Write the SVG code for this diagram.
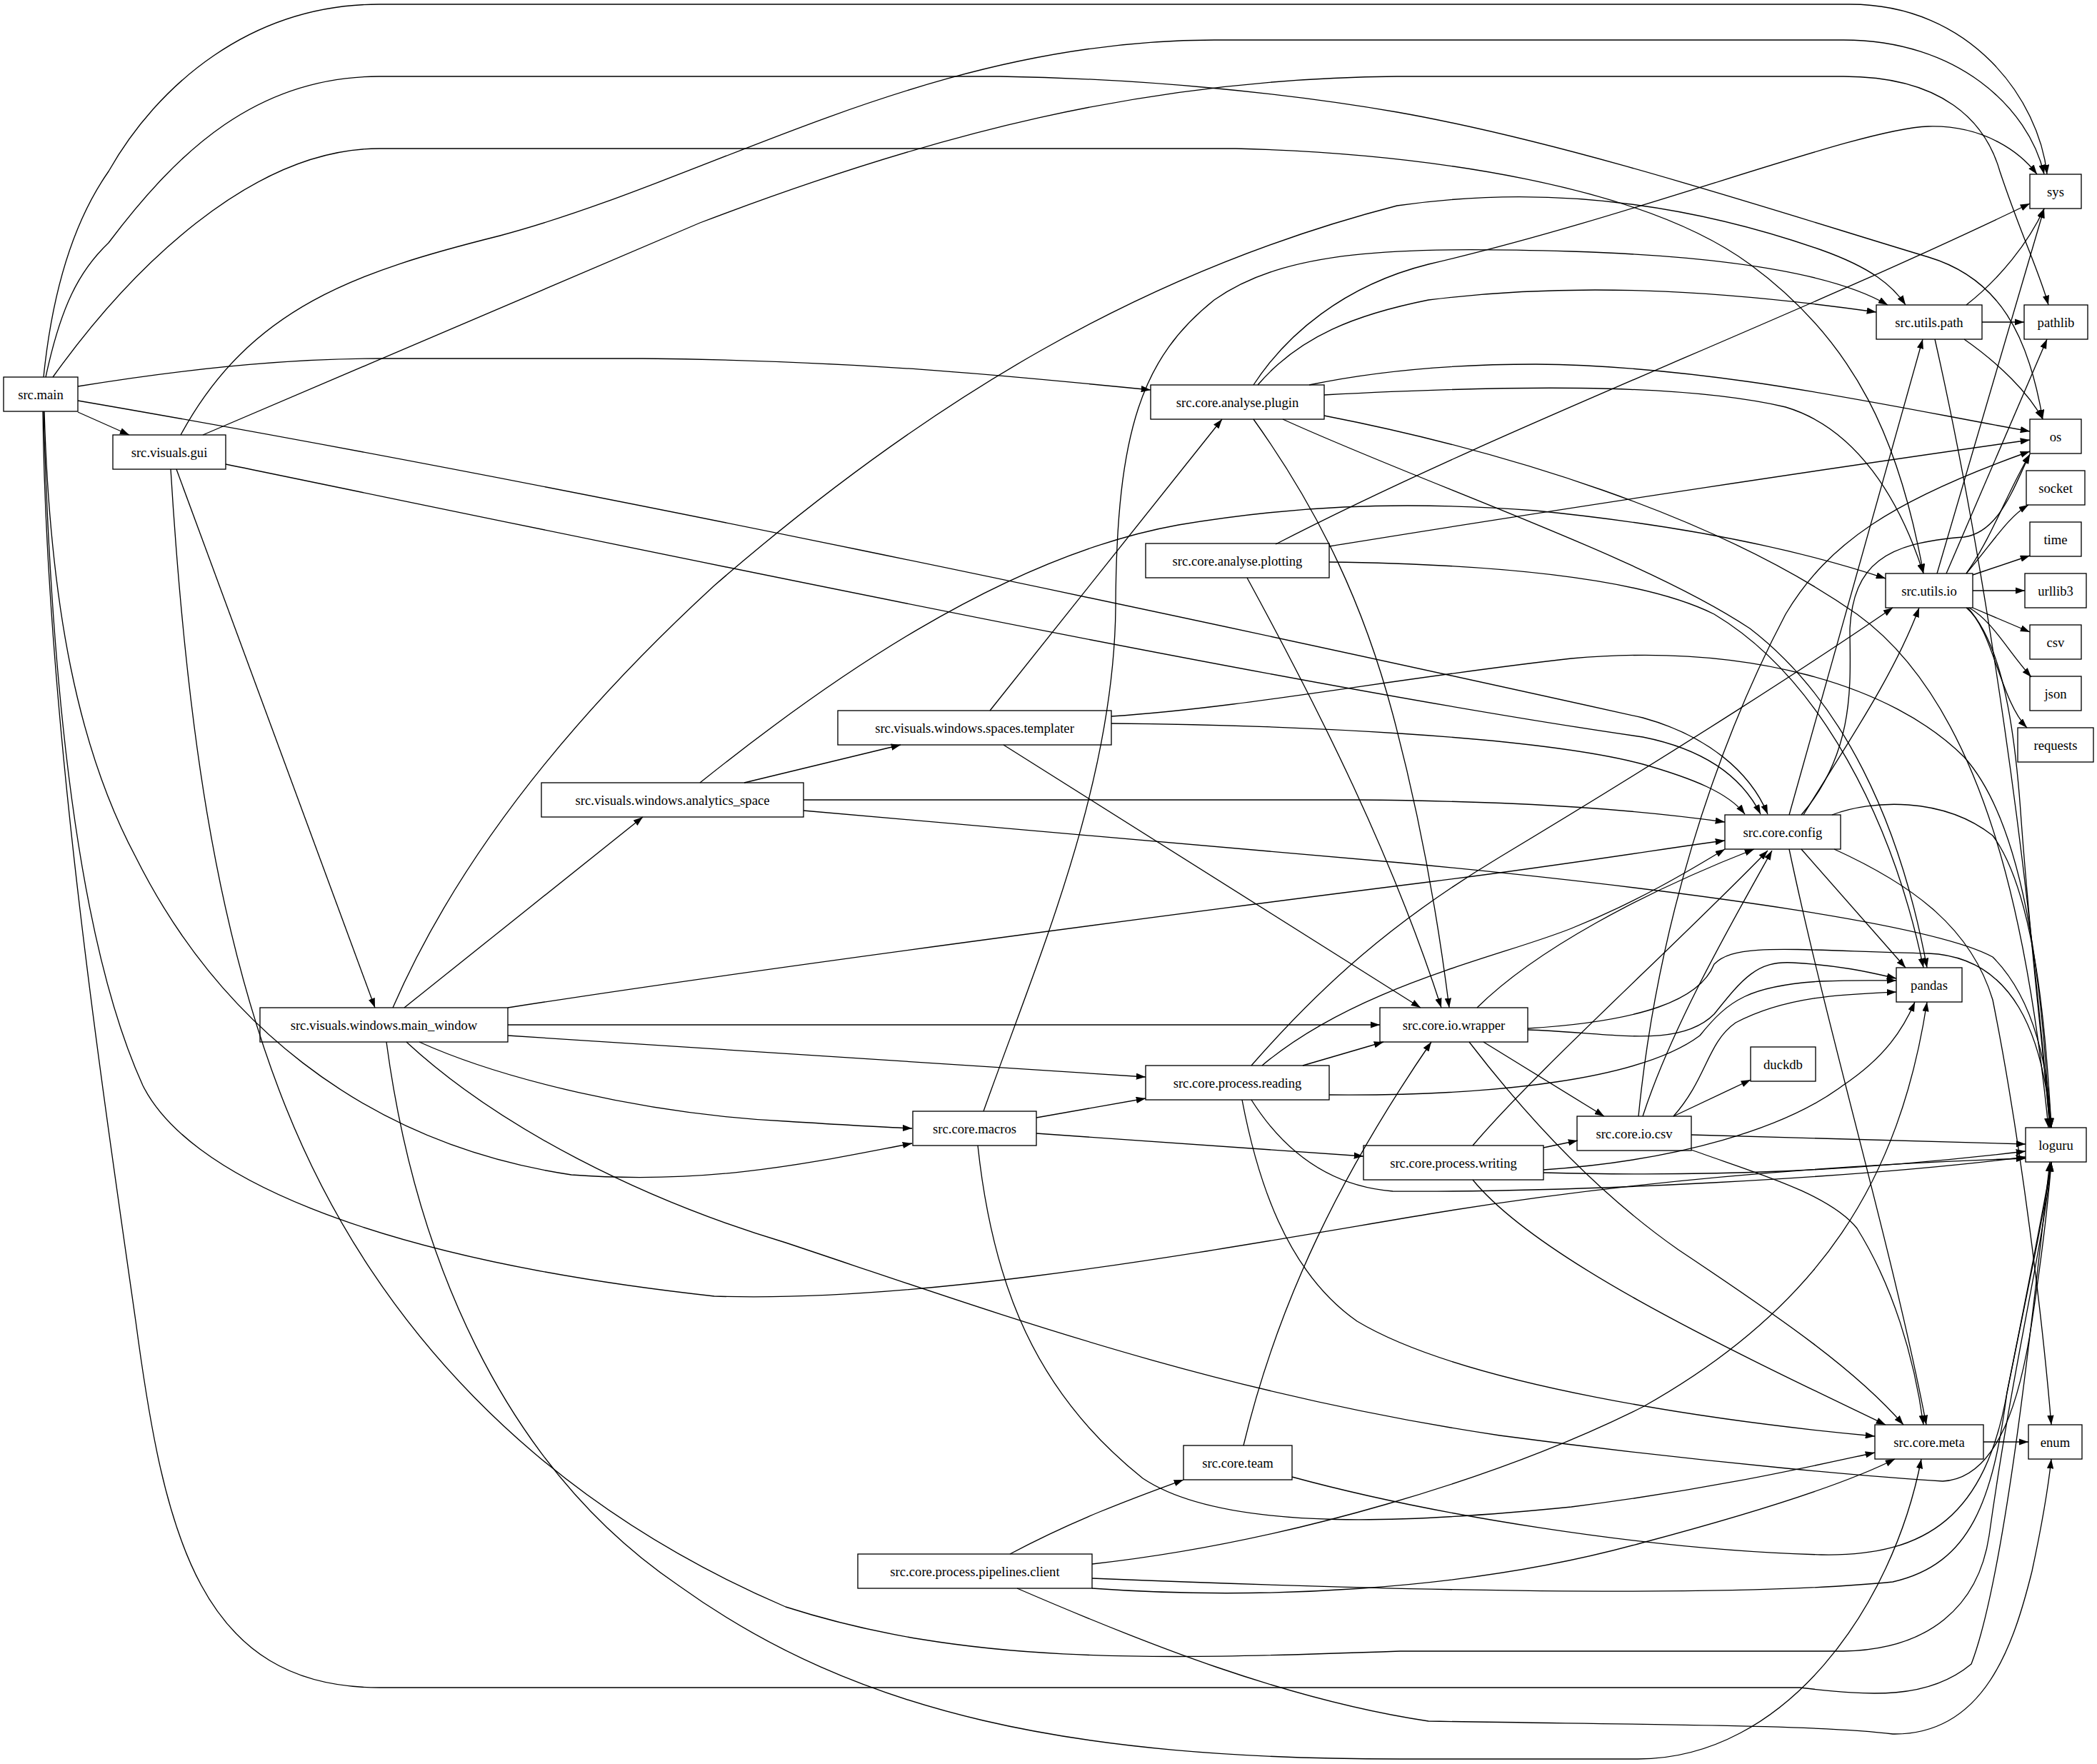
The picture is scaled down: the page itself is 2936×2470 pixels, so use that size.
<svg xmlns="http://www.w3.org/2000/svg" width="2936" height="2470" viewBox="0 0 2936 2470">
<defs>
<marker id="a" viewBox="0 0 10 7" refX="10" refY="3.5" markerWidth="13.3" markerHeight="9.3" markerUnits="userSpaceOnUse" orient="auto"><path d="M0,0 L10,3.5 L0,7 Z" fill="#000"/></marker>
</defs>
<style>
.n rect{fill:none;stroke:#000;stroke-width:1.33}
.n text{font-family:"Liberation Serif","Times New Roman",serif;font-size:18.67px;text-anchor:middle;fill:#000}
.e path{fill:none;stroke:#000;stroke-width:1.33;marker-end:url(#a)}
</style>
<rect width="2936" height="2470" fill="#fff"/>
<g id="edges" class="e">
<path d="M61,528 C75,390 110,300 152,240 C220,120 350,6 531,6 L2590,6 C2760,6 2855,140 2866,244"/>
<path d="M64,528 C85,430 110,380 152,340 C250,210 360,107 531,107 L1400,107 C1600,110 1800,130 1956,157 C2200,200 2500,300 2700,360 C2800,390 2840,470 2860,587"/>
<path d="M74,528 C180,380 350,208 531,208 L1730,208 C2000,215 2300,260 2450,370 C2600,480 2660,620 2693,803"/>
<path d="M109,541 C250,518 400,502 531,502 L900,502 C1200,505 1400,525 1611,546"/>
<path d="M109,561 C800,680 1600,850 2300,1005 C2390,1030 2450,1080 2475,1140"/>
<path d="M109,577 L181,609"/>
<path d="M62,576 C70,850 110,1050 190,1200 C300,1420 500,1600 800,1645 C1000,1660 1150,1625 1277,1601"/>
<path d="M61,576 C70,900 100,1300 200,1520 C260,1640 500,1760 1000,1815 C1300,1825 1700,1750 2000,1700 C2300,1650 2600,1630 2836,1622"/>
<path d="M60,576 C65,1000 140,1500 190,1850 C230,2150 280,2363 531,2363 L2520,2363 C2620,2375 2700,2380 2760,2330 C2810,2200 2850,1800 2870,1627"/>
<path d="M253,609 C350,430 500,380 700,330 C1000,250 1300,56 1700,56 L2581,56 C2740,56 2840,150 2862,244"/>
<path d="M284,609 L980,312 C1300,190 1600,110 1956,107 L2581,107 C2720,107 2780,170 2800,240 C2830,330 2855,380 2868,427"/>
<path d="M316,650 C900,770 1800,960 2300,1032 C2390,1050 2440,1090 2465,1140"/>
<path d="M247,657 L525,1411"/>
<path d="M239,657 C260,1000 300,1300 400,1550 C520,1850 750,2100 1100,2250 C1350,2330 1600,2325 1960,2312 L2581,2312 C2700,2310 2770,2250 2785,2150 C2820,1900 2860,1750 2872,1627"/>
<path d="M550,1411 C620,1250 750,1050 1000,820 C1300,560 1600,380 1956,288 C2150,260 2350,280 2550,350 C2620,375 2650,400 2668,427"/>
<path d="M566,1411 L900,1144"/>
<path d="M711,1411 C1100,1350 1800,1260 2000,1235 C2200,1210 2350,1185 2415,1177"/>
<path d="M711,1435 L1932,1435"/>
<path d="M711,1450 C1000,1470 1300,1490 1604,1508"/>
<path d="M587,1459 C700,1510 900,1560 1100,1570 C1180,1575 1230,1578 1277,1580"/>
<path d="M541,1459 C580,1750 700,2050 950,2220 C1200,2400 1500,2463 1960,2463 L2293,2463 C2500,2463 2650,2250 2690,2043"/>
<path d="M569,1459 C700,1580 900,1680 1100,1740 C1400,1840 1700,1950 2100,2010 C2400,2050 2650,2070 2720,2074 C2800,2070 2830,1950 2845,1850 C2860,1750 2868,1680 2872,1627"/>
<path d="M980,1096 C1150,960 1400,780 1650,735 C1800,710 1950,700 2150,715 C2400,740 2550,780 2640,810"/>
<path d="M1042,1096 L1261,1043"/>
<path d="M1125,1120 L1900,1120 C2150,1122 2300,1135 2415,1151"/>
<path d="M1125,1135 L1960,1208 C2300,1240 2700,1290 2790,1340 C2850,1400 2868,1500 2872,1579"/>
<path d="M1386,995 L1711,587"/>
<path d="M1556,1003 C1750,990 1950,950 2200,922 C2450,900 2650,960 2750,1060 C2840,1160 2860,1400 2870,1579"/>
<path d="M1556,1013 C1800,1015 2150,1030 2300,1070 C2370,1090 2420,1110 2443,1140"/>
<path d="M1405,1043 L1989,1411"/>
<path d="M1755,539 C1800,470 1880,400 2000,370 C2300,300 2600,180 2700,177 C2780,175 2830,215 2852,244"/>
<path d="M1761,539 C1820,470 1900,440 2000,420 C2200,395 2400,405 2627,437"/>
<path d="M1833,539 C1900,525 2000,510 2150,510 C2400,512 2650,570 2842,604"/>
<path d="M1854,553 C2100,540 2350,535 2500,570 C2600,600 2660,700 2693,803"/>
<path d="M1854,582 C2100,630 2400,720 2600,860 C2780,990 2840,1300 2868,1579"/>
<path d="M1796,587 C2000,680 2300,780 2450,880 C2580,980 2660,1150 2698,1355"/>
<path d="M1755,587 C1850,720 1910,850 1950,1000 C1990,1150 2015,1300 2029,1411"/>
<path d="M1786,762 C2100,600 2500,450 2842,285"/>
<path d="M1861,765 C2200,710 2600,650 2842,616"/>
<path d="M1861,787 C2100,790 2300,810 2400,860 C2550,950 2650,1150 2693,1355"/>
<path d="M1746,809 C1850,1000 1950,1200 2018,1411"/>
<path d="M1752,1492 C1850,1380 1950,1290 2100,1200 C2350,1050 2550,920 2650,851"/>
<path d="M1767,1492 C1900,1380 2100,1340 2200,1300 C2300,1260 2380,1210 2415,1189"/>
<path d="M1824,1492 L1937,1459"/>
<path d="M1861,1533 C2100,1535 2300,1510 2380,1450 C2420,1400 2450,1380 2550,1374 C2600,1372 2630,1373 2655,1373"/>
<path d="M1739,1540 C1760,1650 1800,1780 1900,1850 C2050,1940 2400,1990 2625,2011"/>
<path d="M1752,1540 C1790,1600 1850,1660 1950,1668 C2200,1670 2600,1650 2836,1620"/>
<path d="M1377,1556 C1450,1350 1560,1100 1562,850 C1563,600 1600,500 1700,420 C1800,350 1950,345 2200,352 C2450,360 2580,390 2643,427"/>
<path d="M1451,1565 L1604,1538"/>
<path d="M1451,1587 C1600,1598 1750,1608 1909,1619"/>
<path d="M1369,1604 C1390,1800 1450,1950 1600,2070 C1720,2150 2000,2130 2200,2110 C2400,2085 2550,2050 2625,2034"/>
<path d="M2062,1604 C2150,1500 2350,1320 2475,1191"/>
<path d="M2161,1607 L2209,1597"/>
<path d="M2161,1638 C2350,1625 2500,1580 2580,1520 C2640,1480 2665,1440 2681,1403"/>
<path d="M2161,1642 C2400,1648 2600,1640 2836,1612"/>
<path d="M2062,1652 C2150,1760 2400,1880 2640,1995"/>
<path d="M2068,1411 C2150,1330 2300,1250 2456,1189"/>
<path d="M2139,1442 C2250,1445 2350,1470 2400,1420 C2440,1370 2460,1345 2510,1348 C2580,1352 2620,1362 2655,1370"/>
<path d="M2139,1440 C2300,1430 2380,1400 2400,1350 C2430,1320 2500,1330 2700,1335 C2820,1340 2860,1450 2872,1579"/>
<path d="M2077,1459 L2246,1563"/>
<path d="M2057,1459 C2150,1580 2250,1680 2350,1750 C2500,1850 2600,1920 2665,1995"/>
<path d="M2300,1563 C2340,1440 2420,1300 2481,1191"/>
<path d="M2294,1563 C2320,1300 2400,1050 2500,860 C2560,760 2650,700 2842,632"/>
<path d="M2343,1563 L2451,1512"/>
<path d="M2343,1563 C2390,1510 2390,1460 2430,1432 C2500,1395 2580,1392 2655,1389"/>
<path d="M2368,1589 L2836,1602"/>
<path d="M2368,1610 C2450,1640 2560,1670 2600,1720 C2650,1800 2680,1900 2693,1995"/>
<path d="M2505,1141 L2692,475"/>
<path d="M2525,1141 C2580,1050 2650,950 2687,851"/>
<path d="M2522,1141 C2600,1050 2590,950 2590,880 C2595,790 2640,760 2750,752 C2800,745 2820,680 2842,636"/>
<path d="M2522,1189 L2668,1355"/>
<path d="M2505,1189 C2560,1450 2650,1750 2697,1995"/>
<path d="M2568,1189 C2680,1240 2760,1300 2790,1400 C2830,1600 2860,1850 2872,1995"/>
<path d="M2565,1141 C2620,1120 2720,1115 2790,1170 C2850,1250 2865,1450 2872,1579"/>
<path d="M2753,427 C2800,390 2840,340 2862,292"/>
<path d="M2775,451 L2834,451"/>
<path d="M2750,475 C2800,510 2840,550 2860,587"/>
<path d="M2709,475 C2760,700 2830,1100 2870,1579"/>
<path d="M2712,803 L2862,292"/>
<path d="M2725,803 L2866,475"/>
<path d="M2753,803 C2790,750 2810,690 2842,636"/>
<path d="M2753,803 C2790,760 2810,725 2840,707"/>
<path d="M2762,805 L2842,778"/>
<path d="M2762,827 L2835,827"/>
<path d="M2762,851 L2842,885"/>
<path d="M2757,851 C2790,870 2810,910 2844,948"/>
<path d="M2753,851 C2790,880 2800,980 2838,1019"/>
<path d="M2755,851 C2800,900 2820,1000 2830,1150 C2845,1350 2862,1480 2870,1579"/>
<path d="M1741,2024 C1790,1820 1880,1640 2004,1459"/>
<path d="M1809,2068 C2000,2120 2300,2170 2550,2177 C2700,2180 2780,2120 2810,1950 C2840,1800 2860,1700 2872,1627"/>
<path d="M1414,2176 C1500,2130 1580,2100 1657,2072"/>
<path d="M1529,2190 C1800,2160 2100,2070 2300,1970 C2550,1830 2660,1650 2698,1403"/>
<path d="M1529,2224 C1750,2240 2050,2230 2300,2160 C2450,2120 2580,2080 2653,2043"/>
<path d="M1529,2210 C1900,2225 2400,2240 2650,2215 C2760,2190 2790,2100 2810,1950 C2840,1800 2862,1700 2872,1627"/>
<path d="M1424,2224 C1600,2300 1800,2380 2000,2410 C2300,2415 2550,2415 2650,2428 C2780,2430 2820,2300 2845,2200 C2860,2130 2868,2080 2872,2043"/>
<path d="M2777,2019 L2840,2019"/>
</g>
<g id="n_main" class="n"><rect x="5" y="528" width="104" height="48"/><text x="57" y="558.5">src.main</text></g>
<g id="n_gui" class="n"><rect x="158" y="609" width="158" height="48"/><text x="237" y="639.5">src.visuals.gui</text></g>
<g id="n_main_window" class="n"><rect x="364" y="1411" width="347" height="48"/><text x="537.5" y="1441.5">src.visuals.windows.main_window</text></g>
<g id="n_analytics_space" class="n"><rect x="758" y="1096" width="367" height="48"/><text x="941.5" y="1126.5">src.visuals.windows.analytics_space</text></g>
<g id="n_templater" class="n"><rect x="1173" y="995" width="383" height="48"/><text x="1364.5" y="1025.5">src.visuals.windows.spaces.templater</text></g>
<g id="n_macros" class="n"><rect x="1278" y="1556" width="173" height="48"/><text x="1364.5" y="1586.5">src.core.macros</text></g>
<g id="n_client" class="n"><rect x="1201" y="2176" width="328" height="48"/><text x="1365" y="2206.5">src.core.process.pipelines.client</text></g>
<g id="n_plugin" class="n"><rect x="1611" y="539" width="243" height="48"/><text x="1732.5" y="569.5">src.core.analyse.plugin</text></g>
<g id="n_plotting" class="n"><rect x="1604" y="761" width="257" height="48"/><text x="1732.5" y="791.5">src.core.analyse.plotting</text></g>
<g id="n_reading" class="n"><rect x="1604" y="1492" width="257" height="48"/><text x="1732.5" y="1522.5">src.core.process.reading</text></g>
<g id="n_team" class="n"><rect x="1657" y="2024" width="152" height="48"/><text x="1733" y="2054.5">src.core.team</text></g>
<g id="n_wrapper" class="n"><rect x="1932" y="1411" width="207" height="48"/><text x="2035.5" y="1441.5">src.core.io.wrapper</text></g>
<g id="n_writing" class="n"><rect x="1909" y="1604" width="252" height="48"/><text x="2035" y="1634.5">src.core.process.writing</text></g>
<g id="n_iocsv" class="n"><rect x="2208" y="1563" width="160" height="48"/><text x="2288" y="1593.5">src.core.io.csv</text></g>
<g id="n_config" class="n"><rect x="2415" y="1141" width="162" height="48"/><text x="2496" y="1171.5">src.core.config</text></g>
<g id="n_duckdb" class="n"><rect x="2451" y="1466" width="91" height="48"/><text x="2496.5" y="1496.5">duckdb</text></g>
<g id="n_path" class="n"><rect x="2627" y="427" width="148" height="48"/><text x="2701" y="457.5">src.utils.path</text></g>
<g id="n_utilsio" class="n"><rect x="2640" y="803" width="122" height="48"/><text x="2701" y="833.5">src.utils.io</text></g>
<g id="n_pandas" class="n"><rect x="2655" y="1355" width="92" height="48"/><text x="2701" y="1385.5">pandas</text></g>
<g id="n_meta" class="n"><rect x="2625" y="1995" width="152" height="48"/><text x="2701" y="2025.5">src.core.meta</text></g>
<g id="n_sys" class="n"><rect x="2842" y="244" width="72" height="48"/><text x="2878" y="274.5">sys</text></g>
<g id="n_pathlib" class="n"><rect x="2834" y="427" width="89" height="48"/><text x="2878.5" y="457.5">pathlib</text></g>
<g id="n_os" class="n"><rect x="2842" y="587" width="72" height="48"/><text x="2878" y="617.5">os</text></g>
<g id="n_socket" class="n"><rect x="2837" y="659" width="82" height="48"/><text x="2878" y="689.5">socket</text></g>
<g id="n_time" class="n"><rect x="2842" y="731" width="72" height="48"/><text x="2878" y="761.5">time</text></g>
<g id="n_urllib3" class="n"><rect x="2835" y="803" width="86" height="48"/><text x="2878" y="833.5">urllib3</text></g>
<g id="n_csv" class="n"><rect x="2842" y="875" width="72" height="48"/><text x="2878" y="905.5">csv</text></g>
<g id="n_json" class="n"><rect x="2842" y="947" width="72" height="48"/><text x="2878" y="977.5">json</text></g>
<g id="n_requests" class="n"><rect x="2825" y="1019" width="106" height="48"/><text x="2878" y="1049.5">requests</text></g>
<g id="n_loguru" class="n"><rect x="2836" y="1579" width="85" height="48"/><text x="2878.5" y="1609.5">loguru</text></g>
<g id="n_enum" class="n"><rect x="2840" y="1995" width="75" height="48"/><text x="2877.5" y="2025.5">enum</text></g>
</svg>
